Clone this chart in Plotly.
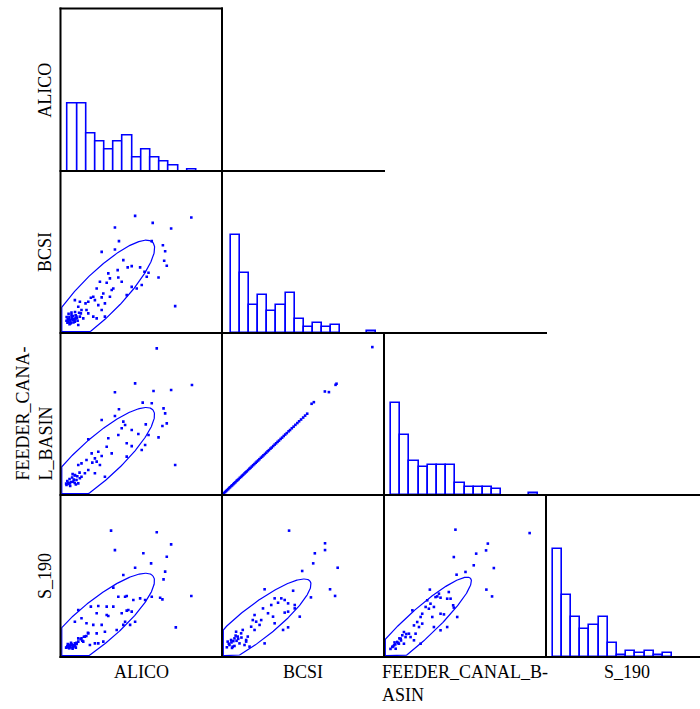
import numpy as np
import plotly.graph_objects as go

# ---------------- data ----------------
row_labels = ["ALICO", "BCSI", "FEEDER_CANA-<br>L_BASIN", "S_190"]
col_labels = ["ALICO", "BCSI", "FEEDER_CANAL_B-<br>ASIN", "S_190"]

# histogram counts per bin (diagonal cells)
alico_counts = [34, 34, 19, 15, 11, 15, 18, 7, 11, 7, 5, 3, 0, 1]
bcsi_counts = [49, 30, 14, 19, 11, 14, 20, 7, 3, 5, 3, 4, 0, 0, 0, 1]
feeder_counts = [46, 30, 17, 14, 15, 15, 15, 6, 4, 4, 4, 3, 0, 0, 0, 1]
s190_counts = [54, 31, 20, 14, 16, 20, 7, 1, 3, 2, 3, 1, 2]
hist_bin_start = [4.6, 5.6, 4.3, 4.1]
hist_bin_width = [5.68, 5.6, 5.68, 5.68]

# scatter cells (scaled units 0-100 of each variable's range)
alico_bcsi_x = [46.2, 81.0, 57.1, 33.7, 68.5, 36.2, 56.5, 63.4, 25.5, 33.7, 64.8, 64.2, 65.8, 38.9,
                44.1, 35.4, 35.8, 41.6, 49.3, 52.0, 54.5, 53.4, 60.7, 29.6, 24.4, 28.6, 32.7, 30.6,
                26.5, 22.4, 20.3, 18.8, 21.3, 17.2, 23.4, 27.5, 25.5, 16.1, 13.0, 11.0, 14.1, 12.0,
                9.9, 8.9, 5.8, 4.8, 6.8, 11.0, 17.2, 20.3, 22.4, 44.1, 41.0, 47.2, 50.3, 71.0, 27.5,
                15.5, 8.9, 12.0, 7.9, 6.4, 4.3, 9.3, 12.6, 30.6, 37.9, 31.7, 25.5, 5.2, 7.2, 8.5,
                10.6, 5.6, 3.7, 4.5, 5.5, 6.2, 7.0, 7.8, 8.6, 9.4, 10.2, 5.0, 6.8, 3.8, 11.5, 8.0,
                6.0, 9.0]
alico_bcsi_y = [72.3, 71.3, 68.0, 65.1, 64.5, 56.7, 56.7, 54.2, 50.1, 51.5, 50.5, 44.6, 41.5, 45.0,
                41.3, 38.8, 34.3, 40.5, 40.5, 37.8, 37.2, 34.7, 34.3, 36.8, 31.6, 31.0, 27.5, 22.4,
                24.4, 27.5, 22.4, 21.8, 20.3, 19.3, 17.2, 18.3, 14.2, 14.2, 14.2, 16.2, 9.0, 10.1,
                10.1, 7.0, 8.0, 7.0, 11.1, 4.9, 12.1, 10.1, 9.0, 28.5, 23.4, 27.5, 29.6, 16.6, 10.1,
                18.3, 20.3, 19.3, 8.0, 6.0, 6.4, 9.0, 12.1, 33.7, 31.6, 26.5, 22.0, 8.4, 9.7, 8.4,
                7.6, 5.5, 7.6, 8.5, 9.8, 7.2, 8.8, 10.5, 7.9, 11.0, 9.2, 11.8, 12.6, 9.9, 12.5, 6.5,
                6.2, 13.0]

alico_feeder_x = [59.6, 46.2, 81.4, 33.7, 57.6, 68.5, 50.9, 56.5, 36.2, 63.8, 64.8, 25.5, 33.7, 65.8,
                  63.1, 38.9, 37.9, 44.1, 40.0, 52.8, 48.2, 54.5, 52.4, 60.7, 29.6, 35.8, 17.2, 28.6,
                  31.7, 23.4, 25.5, 41.0, 44.1, 19.3, 21.3, 19.7, 22.4, 24.4, 16.1, 13.0, 11.0, 71.0,
                  17.2, 21.3, 15.1, 13.0, 27.5, 8.9, 9.9, 7.9, 11.0, 5.8, 4.8, 3.7, 12.0, 41.0, 50.3,
                  6.5, 8.2, 5.0, 9.5, 4.2, 5.6, 7.2, 8.8, 10.4, 6.0, 9.0, 11.8, 3.5, 7.5]
alico_feeder_y = [90.5, 68.9, 67.9, 63.4, 64.2, 64.8, 57.0, 56.6, 52.9, 53.5, 50.4, 46.3, 48.8, 44.2,
                  42.6, 45.3, 41.2, 40.1, 43.2, 43.6, 37.7, 37.0, 30.9, 35.6, 35.0, 37.0, 34.4, 29.8,
                  25.7, 26.7, 24.1, 31.9, 30.2, 25.7, 22.6, 20.0, 20.6, 18.5, 21.6, 19.5, 18.5, 18.5,
                  15.4, 13.4, 13.4, 11.3, 11.3, 12.3, 9.3, 8.2, 7.2, 7.2, 7.6, 6.2, 10.3, 23.7, 27.8,
                  8.0, 9.5, 6.8, 6.5, 8.6, 9.9, 10.8, 7.4, 11.6, 5.6, 12.0, 13.8, 7.0, 12.9]

bcsi_feeder_x = [0.6, 1.2, 1.9, 2.5, 3.1, 3.8, 4.4, 5.0, 5.7, 6.3, 7.0, 7.6, 8.3, 9.0, 9.6, 10.3, 11.0,
                 11.8, 12.4, 13.1, 13.9, 14.6, 15.3, 16.1, 16.9, 17.6, 18.4, 19.2, 20.0, 20.8, 21.5,
                 22.3, 23.1, 24.0, 24.8, 25.6, 26.5, 27.3, 28.2, 29.0, 29.9, 30.7, 31.6, 32.5, 33.4,
                 34.3, 35.2, 36.2, 37.1, 38.1, 39.0, 40.0, 41.1, 42.0, 43.1, 44.2, 45.3, 46.5, 47.6,
                 48.8, 50.1, 51.3, 52.6, 55.3, 56.7, 63.5, 66.0, 70.1, 70.7, 92.8]
bcsi_feeder_y = [0.6, 1.2, 1.8, 2.4, 3.0, 3.6, 4.3, 4.8, 5.5, 6.0, 6.7, 7.3, 7.9, 8.7, 9.2, 9.8, 10.6,
                 11.2, 11.9, 12.5, 13.3, 14.0, 14.6, 15.4, 16.2, 16.8, 17.6, 18.4, 19.1, 19.9, 20.6,
                 21.3, 22.1, 23.0, 23.7, 24.5, 25.3, 26.1, 27.0, 27.7, 28.6, 29.3, 30.2, 31.1, 31.9,
                 32.8, 33.6, 34.6, 35.4, 36.4, 37.3, 38.2, 39.3, 40.1, 41.2, 42.2, 43.3, 44.4, 45.5,
                 46.6, 47.8, 49.0, 50.2, 56.3, 57.3, 63.9, 63.5, 68.0, 68.7, 91.3]

alico_s190_x = [31.3, 59.6, 68.5, 33.7, 51.3, 65.8, 46.2, 56.1, 38.9, 64.8, 63.8, 32.7, 40.0, 35.8,
                41.0, 45.1, 49.3, 52.4, 56.5, 61.7, 63.1, 81.0, 23.4, 28.6, 32.7, 18.8, 11.0, 22.4,
                28.6, 29.6, 37.9, 41.0, 42.0, 44.1, 46.2, 40.0, 38.9, 34.8, 43.1, 25.5, 20.3, 16.1,
                13.0, 8.9, 71.4, 17.2, 22.4, 27.5, 23.4, 26.5, 21.3, 15.1, 13.0, 11.0, 8.9, 6.8,
                4.8, 5.8, 7.9, 9.9, 14.1, 18.2, 5.2, 6.2, 7.4, 4.2, 8.5, 3.5, 4.0, 5.0, 6.0, 7.0,
                8.0, 9.0, 10.0, 4.5, 6.5, 11.0, 12.5, 13.5, 14.5, 16.0, 17.0, 5.5, 7.5, 9.5]
alico_s190_y = [78.0, 77.0, 69.5, 66.0, 64.0, 61.9, 55.1, 57.8, 50.6, 52.7, 47.9, 42.8, 37.2, 37.2,
                37.7, 35.2, 36.2, 35.2, 37.2, 36.6, 35.6, 37.7, 31.5, 31.1, 31.1, 31.1, 29.0, 27.0,
                25.9, 25.3, 27.0, 28.6, 29.0, 28.0, 21.8, 21.8, 19.8, 16.7, 19.8, 19.8, 19.8, 20.8,
                23.9, 21.8, 18.3, 14.6, 14.6, 15.6, 8.4, 9.5, 8.4, 12.6, 11.5, 11.5, 8.4, 8.0,
                7.4, 6.4, 6.8, 8.8, 9.5, 7.4, 5.6, 7.6, 5.9, 6.6, 7.2, 5.8, 6.0, 7.0, 6.0, 7.5,
                6.3, 7.0, 8.0, 8.0, 8.8, 9.5, 11.0, 10.0, 12.5, 13.0, 15.0, 5.5, 5.2, 5.8]

bcsi_s190_x = [41.4, 63.6, 63.6, 57.3, 56.3, 71.4, 49.5, 66.7, 69.8, 26.3, 43.9, 54.9, 36.6, 38.7,
               40.8, 32.5, 34.6, 44.9, 44.9, 30.4, 25.3, 28.4, 31.5, 38.7, 40.8, 48.0, 32.5, 24.2,
               20.1, 21.1, 23.2, 18.0, 20.1, 37.7, 40.8, 15.9, 9.7, 11.8, 7.7, 5.6, 3.5, 4.6, 7.7,
               10.8, 13.9, 14.9, 17.0, 26.3, 8.7, 12.8, 19.0, 14.9, 6.6, 3.0, 4.2, 5.8, 7.0, 9.0,
               10.0, 12.0, 6.2, 8.4]
bcsi_s190_y = [78.0, 70.2, 66.0, 64.0, 57.8, 55.1, 53.1, 41.8, 37.7, 41.8, 40.9, 36.8, 36.2, 35.2,
               33.1, 36.2, 33.5, 32.1, 30.0, 32.1, 30.0, 27.0, 24.9, 27.4, 28.0, 24.9, 20.8, 22.8,
               25.9, 21.8, 19.8, 18.7, 16.7, 16.7, 18.3, 12.6, 12.6, 14.6, 11.5, 10.5, 9.5, 7.4, 6.8,
               8.4, 7.4, 10.5, 6.4, 8.4, 15.6, 16.7, 22.8, 9.5, 6.4, 6.0, 8.2, 9.0, 9.8, 10.0,
               11.2, 12.0, 5.6, 13.2]

feeder_s190_x = [44.1, 89.9, 64.1, 63.0, 56.9, 43.1, 55.4, 67.8, 44.8, 50.3, 63.2, 66.7, 28.3, 32.9,
                 34.9, 39.0, 41.1, 40.0, 33.9, 31.8, 26.7, 28.7, 25.7, 30.8, 27.7, 42.7, 43.1, 45.2,
                 34.9, 37.0, 29.8, 23.6, 22.6, 17.5, 20.5, 23.6, 21.6, 18.5, 30.8, 34.9, 39.0, 19.5,
                 15.4, 12.3, 11.3, 13.3, 10.3, 8.2, 9.2, 6.2, 5.1, 7.2, 12.3, 16.4, 22.6, 18.5,
                 4.0, 5.5, 7.0, 8.8, 10.5, 6.5, 9.5, 13.8]
feeder_s190_y = [78.6, 76.5, 70.0, 65.8, 63.8, 61.7, 56.6, 54.9, 50.8, 52.5, 41.6, 37.4, 41.6, 37.4,
                 36.6, 36.0, 36.0, 40.1, 39.1, 37.0, 35.0, 32.9, 30.9, 30.9, 29.8, 31.9, 30.5, 24.7,
                 26.7, 26.3, 24.7, 26.7, 24.7, 28.8, 21.6, 20.6, 18.5, 19.5, 18.5, 16.5, 18.5, 14.4,
                 14.4, 15.4, 13.4, 12.3, 11.3, 9.3, 8.2, 7.2, 6.2, 5.1, 8.2, 12.3, 8.2, 10.3,
                 5.0, 6.5, 7.8, 8.6, 10.2, 9.0, 11.5, 14.2]

# ellipse parameters per scatter cell: centre x, centre y, semi-major, semi-minor, angle (deg)
ellipse_alico_bcsi = [24.5, 23.5, 46, 13.0, 45]
ellipse_alico_feeder = [23.0, 21.8, 46, 12.8, 42]
ellipse_alico_s190 = [22.0, 20.5, 46, 13.0, 40]
ellipse_bcsi_s190 = [21.2, 21.0, 42, 10.5, 38]
ellipse_feeder_s190 = [21.0, 18.8, 44, 8.9, 42.6]

# ---------------- geometry / style ----------------
W, H = 700, 709
col_px = [60.5, 222, 384, 546, 708]
row_px = [8.5, 171, 333, 495, 657]
BLUE = "#0000ff"
FONT = "Liberation Serif"

hist_counts = [alico_counts, bcsi_counts, feeder_counts, s190_counts]
scatter_cells = {
    (1, 0): (alico_bcsi_x, alico_bcsi_y, ellipse_alico_bcsi),
    (2, 0): (alico_feeder_x, alico_feeder_y, ellipse_alico_feeder),
    (2, 1): (bcsi_feeder_x, bcsi_feeder_y, None),
    (3, 0): (alico_s190_x, alico_s190_y, ellipse_alico_s190),
    (3, 1): (bcsi_s190_x, bcsi_s190_y, ellipse_bcsi_s190),
    (3, 2): (feeder_s190_x, feeder_s190_y, ellipse_feeder_s190),
}

fig = go.Figure()
layout_axes = {}
k = 0
for r in range(4):
    for c in range(r + 1):
        k += 1
        xa = "x" if k == 1 else f"x{k}"
        ya = "y" if k == 1 else f"y{k}"
        x0 = col_px[c] / W
        x1 = min(col_px[c + 1], W) / W
        xmax = 100 * (min(col_px[c + 1], W) - col_px[c]) / (col_px[c + 1] - col_px[c])
        y0 = 1 - row_px[r + 1] / H
        y1 = 1 - row_px[r] / H
        if r == c:
            ymax = (row_px[r + 1] - row_px[r]) / 2.0
            counts = hist_counts[c]
            start, bw = hist_bin_start[c], hist_bin_width[c]
            xs = [start + (i + 0.5) * bw for i, v in enumerate(counts) if v > 0]
            ys = [v for v in counts if v > 0]
            fig.add_trace(go.Bar(x=xs, y=ys, width=bw, xaxis=xa, yaxis=ya,
                                 marker=dict(color="white", line=dict(color=BLUE, width=1.6)),
                                 showlegend=False, hoverinfo="skip"))
        else:
            ymax = 100
            sx, sy, ell = scatter_cells[(r, c)]
            if ell is not None:
                cx, cy, a, b, ang = ell
                t = np.linspace(0, 2 * np.pi, 361)
                th = np.radians(ang)
                ex = cx + a * np.cos(t) * np.cos(th) - b * np.sin(t) * np.sin(th)
                ey = cy + a * np.cos(t) * np.sin(th) + b * np.sin(t) * np.cos(th)
                ex = np.clip(ex, 0.8, xmax)
                ey = np.clip(ey, 0.8, 100)
                fig.add_trace(go.Scatter(x=ex, y=ey, mode="lines", xaxis=xa, yaxis=ya,
                                         line=dict(color=BLUE, width=1.2),
                                         showlegend=False, hoverinfo="skip"))
            fig.add_trace(go.Scatter(x=sx, y=sy, mode="markers", xaxis=xa, yaxis=ya,
                                     marker=dict(symbol="square", size=2.6, color=BLUE),
                                     showlegend=False, hoverinfo="skip"))
        axcommon = dict(showgrid=False, zeroline=False, showticklabels=False, ticks="",
                        showline=False, fixedrange=True)
        layout_axes["xaxis" if k == 1 else f"xaxis{k}"] = dict(
            domain=[x0, x1], range=[0, xmax], anchor=ya, **axcommon)
        layout_axes["yaxis" if k == 1 else f"yaxis{k}"] = dict(
            domain=[y0, y1], range=[0, ymax], anchor=xa, **axcommon)

# panel borders
shapes = []
def hline(ypx, xa_px, xb_px):
    shapes.append(dict(type="line", xref="paper", yref="paper", x0=xa_px / W, x1=xb_px / W,
                       y0=1 - ypx / H, y1=1 - ypx / H, line=dict(color="black", width=2),
                       layer="above"))
def vline(xpx, ya_px, yb_px):
    shapes.append(dict(type="line", xref="paper", yref="paper", x0=xpx / W, x1=xpx / W,
                       y0=1 - ya_px / H, y1=1 - yb_px / H, line=dict(color="black", width=2),
                       layer="above"))
for r in range(5):
    last_col = min(r + 1, 4)
    hline(row_px[r], col_px[0] - 1, min(col_px[last_col], W) + (1 if last_col < 4 else 0))
for c in range(4):
    vline(col_px[c], row_px[c] - 1, row_px[4] + 1)
vline(col_px[1], row_px[0] - 1, row_px[4] + 1)

annotations = []
for r, lab in enumerate(row_labels):
    xc = 33.5 if "<br>" in lab else 45
    annotations.append(dict(text=lab, x=xc / W, y=1 - (row_px[r] + row_px[r + 1]) / 2 / H,
                            xref="paper", yref="paper", showarrow=False, textangle=-90,
                            xanchor="center", yanchor="middle", align="left",
                            font=dict(family=FONT, size=18, color="black")))
for c, lab in enumerate(col_labels):
    annotations.append(dict(text=lab, x=(col_px[c] + col_px[c + 1]) / 2 / W, y=1 - 660 / H,
                            xref="paper", yref="paper", showarrow=False,
                            xanchor="center", yanchor="top", align="left",
                            font=dict(family=FONT, size=18, color="black")))

fig.update_layout(width=W, height=H, margin=dict(l=0, r=0, t=0, b=0),
                  paper_bgcolor="white", plot_bgcolor="white", bargap=0, barmode="overlay",
                  shapes=shapes, annotations=annotations, showlegend=False, **layout_axes)
fig.write_html("out.html", config={"displayModeBar": False},
               post_script="document.body.style.margin='0';document.body.style.overflow='hidden';")
